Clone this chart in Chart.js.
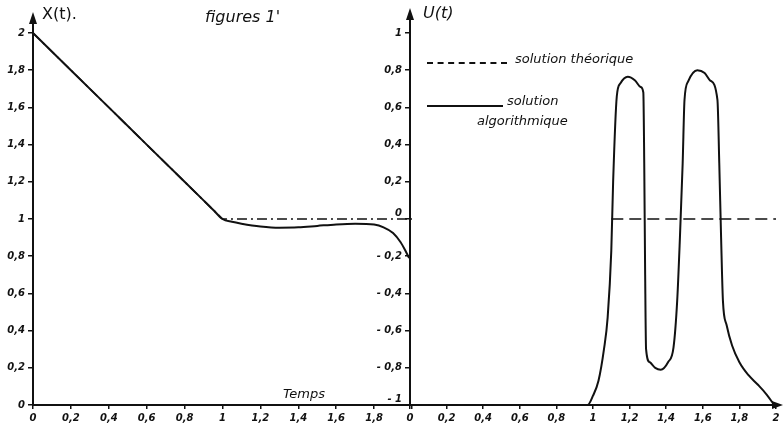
<!DOCTYPE html>
<html>
<head>
<meta charset="utf-8">
<script src="https://cdn.jsdelivr.net/npm/chart.js@4.4.1/dist/chart.umd.min.js"></script>
<style>
  html, body { margin: 0; padding: 0; background: #fff; }
  #wrap { position: relative; width: 783px; height: 432px; overflow: hidden; background: #fff; }
  .box { position: absolute; top: 0; height: 432px; }
  .txt { position: absolute; font-family: "DejaVu Sans", sans-serif; font-style: italic; color: #111; white-space: nowrap; }
</style>
</head>
<body>
<div id="wrap">
  <div class="box" style="left:0;width:425px;"><canvas id="left"></canvas></div>
  <div class="box" style="left:340px;width:443px;"><canvas id="right"></canvas></div>
  <div class="txt" style="left:42px;top:4px;font-size:16px;font-style:normal;">X(t).</div>
  <div class="txt" style="left:205px;top:7px;font-size:16px;">figures 1'</div>
  <div class="txt" style="left:423px;top:3px;font-size:16px;">U(t)</div>
  <div class="txt" style="left:283px;top:386px;font-size:13px;">Temps</div>
  <div style="position:absolute;left:427px;top:62px;width:80px;border-top:2px dashed #111;"></div>
  <div class="txt" style="left:515px;top:51px;font-size:13px;">solution théorique</div>
  <div style="position:absolute;left:427px;top:105px;width:76px;border-top:2px solid #111;"></div>
  <div class="txt" style="left:507px;top:93px;font-size:13px;">solution</div>
  <div class="txt" style="left:477px;top:113px;font-size:13px;">algorithmique</div>
</div>
<script>
// ---- data ----
const leftTheoT = [0, 1, 2];
const leftTheoX = [2, 1, 1];
const leftAlgoT = [0, 0.2, 0.4, 0.6, 0.8, 0.9, 0.95, 1.0, 1.05, 1.1, 1.2, 1.3, 1.4, 1.5, 1.6, 1.7, 1.8, 1.85, 1.9, 1.94, 1.97, 1.985];
const leftAlgoX = [2, 1.8, 1.6, 1.4, 1.2, 1.1, 1.05, 1.0, 0.985, 0.975, 0.96, 0.953, 0.955, 0.963, 0.971, 0.975, 0.97, 0.955, 0.925, 0.875, 0.82, 0.79];
const leftXLabels = ['0', '0,2', '0,4', '0,6', '0,8', '1', '1,2', '1,4', '1,6', '1,8', ''];
const leftYLabels = ['0', '0,2', '0,4', '0,6', '0,8', '1', '1,2', '1,4', '1,6', '1,8', '2'];

const rightTheoT = [0, 1, 1.05, 1.1, 2];
const rightTheoU = [-1, -1, null, 0, 0];
const rightAlgoT = [0, 0.5, 0.97, 1.0, 1.03, 1.06, 1.08, 1.10, 1.11, 1.13, 1.15, 1.19, 1.23, 1.26, 1.275, 1.28, 1.285, 1.29, 1.31, 1.34, 1.37, 1.41, 1.44, 1.46, 1.475, 1.49, 1.50, 1.52, 1.57, 1.61, 1.64, 1.68, 1.69, 1.70, 1.71, 1.73, 1.76, 1.80, 1.85, 1.90, 1.95, 1.99];
const rightAlgoU = [-1, -1, -1, -0.95, -0.87, -0.70, -0.53, -0.17, 0.2, 0.66, 0.73, 0.765, 0.745, 0.71, 0.68, 0.3, -0.3, -0.70, -0.77, -0.80, -0.81, -0.77, -0.69, -0.44, -0.1, 0.3, 0.64, 0.74, 0.80, 0.785, 0.745, 0.64, 0.3, -0.1, -0.44, -0.57, -0.68, -0.77, -0.84, -0.89, -0.945, -1];
const rightXLabels = ['0', '0,2', '0,4', '0,6', '0,8', '1', '1,2', '1,4', '1,6', '1,8', '2'];
const rightYLabels = ['- 1', '- 0,8', '- 0,6', '- 0,4', '- 0,2', '0', '0,2', '0,4', '0,6', '0,8', '1'];

const pts = (xs, ys) => xs.map((x, i) => ({ x: x, y: ys[i] }));
const INK = '#111';
const tickFont = { family: 'DejaVu Sans', size: 10, style: 'italic', weight: 'bold' };

const arrows = {
  id: 'arrows',
  afterDraw(chart, args, opts) {
    const ctx = chart.ctx, a = chart.chartArea;
    ctx.save();
    ctx.strokeStyle = INK; ctx.fillStyle = INK; ctx.lineWidth = 2;
    ctx.beginPath(); ctx.moveTo(a.left, a.top); ctx.lineTo(a.left, opts.tipY); ctx.stroke();
    ctx.beginPath(); ctx.moveTo(a.left, opts.tipY - 4); ctx.lineTo(a.left - 4, opts.tipY + 8); ctx.lineTo(a.left + 4, opts.tipY + 8); ctx.closePath(); ctx.fill();
    if (opts.xArrow) {
      const xe = a.right + 4;
      ctx.beginPath(); ctx.moveTo(a.right, a.bottom); ctx.lineTo(xe, a.bottom); ctx.stroke();
      ctx.beginPath(); ctx.moveTo(xe + 3, a.bottom); ctx.lineTo(xe - 8, a.bottom - 4); ctx.lineTo(xe - 8, a.bottom + 4); ctx.closePath(); ctx.fill();
    }
    ctx.restore();
  }
};

function axes(xLabels, yLabels, yMin, yWidth, liftLabels) {
  return {
    x: {
      type: 'linear', min: 0, max: 2,
      afterFit: s => { s.height = 27; },
      ticks: { stepSize: 0.2, color: INK, font: tickFont, padding: 3, maxRotation: 0, autoSkip: false,
               callback: (v, i) => xLabels[i] },
      grid: { display: true, drawOnChartArea: false, drawTicks: true, tickLength: 4, color: INK, lineWidth: 1.5 },
      border: { display: true, color: INK, width: 2 }
    },
    y: {
      type: 'linear', min: yMin, max: yMin + 2,
      afterFit: s => { s.width = yWidth; },
      ticks: { stepSize: 0.2, color: INK, font: tickFont, padding: 3, autoSkip: false,
               callback: (v, i) => liftLabels.includes(yLabels[i]) ? [yLabels[i], ''] : yLabels[i] },
      grid: { display: true, drawOnChartArea: false, drawTicks: true, tickLength: 5, color: INK, lineWidth: 1.5 },
      border: { display: true, color: INK, width: 2 }
    }
  };
}

const common = {
  responsive: true, maintainAspectRatio: false, animation: false,
  elements: { point: { radius: 0 } }
};

new Chart(document.getElementById('left'), {
  type: 'line',
  data: { datasets: [
    { data: pts(leftTheoT, leftTheoX), borderColor: INK, borderWidth: 1.6, borderDash: [10, 4, 2, 4], tension: 0, clip: false },
    { data: pts(leftAlgoT, leftAlgoX), borderColor: INK, borderWidth: 2, cubicInterpolationMode: 'monotone', clip: false }
  ] },
  options: Object.assign({}, common, {
    layout: { padding: { left: 0, right: 13, top: 33, bottom: 0 } },
    scales: axes(leftXLabels, leftYLabels, 0, 33, []),
    plugins: { legend: { display: false }, tooltip: { enabled: false }, arrows: { tipY: 16, xArrow: false } }
  }),
  plugins: [arrows]
});

new Chart(document.getElementById('right'), {
  type: 'line',
  data: { datasets: [
    { data: pts(rightTheoT, rightTheoU), borderColor: INK, borderWidth: 1.6, borderDash: [12, 6], spanGaps: false, tension: 0, clip: false },
    { data: pts(rightAlgoT, rightAlgoU), borderColor: INK, borderWidth: 2, cubicInterpolationMode: 'monotone', clip: false }
  ] },
  options: Object.assign({}, common, {
    layout: { padding: { left: 0, right: 7, top: 33, bottom: 0 } },
    scales: axes(rightXLabels, rightYLabels, -1, 70, ['0', '- 1']),
    plugins: { legend: { display: false }, tooltip: { enabled: false }, arrows: { tipY: 12, xArrow: true } }
  }),
  plugins: [arrows]
});
</script>
</body>
</html>
